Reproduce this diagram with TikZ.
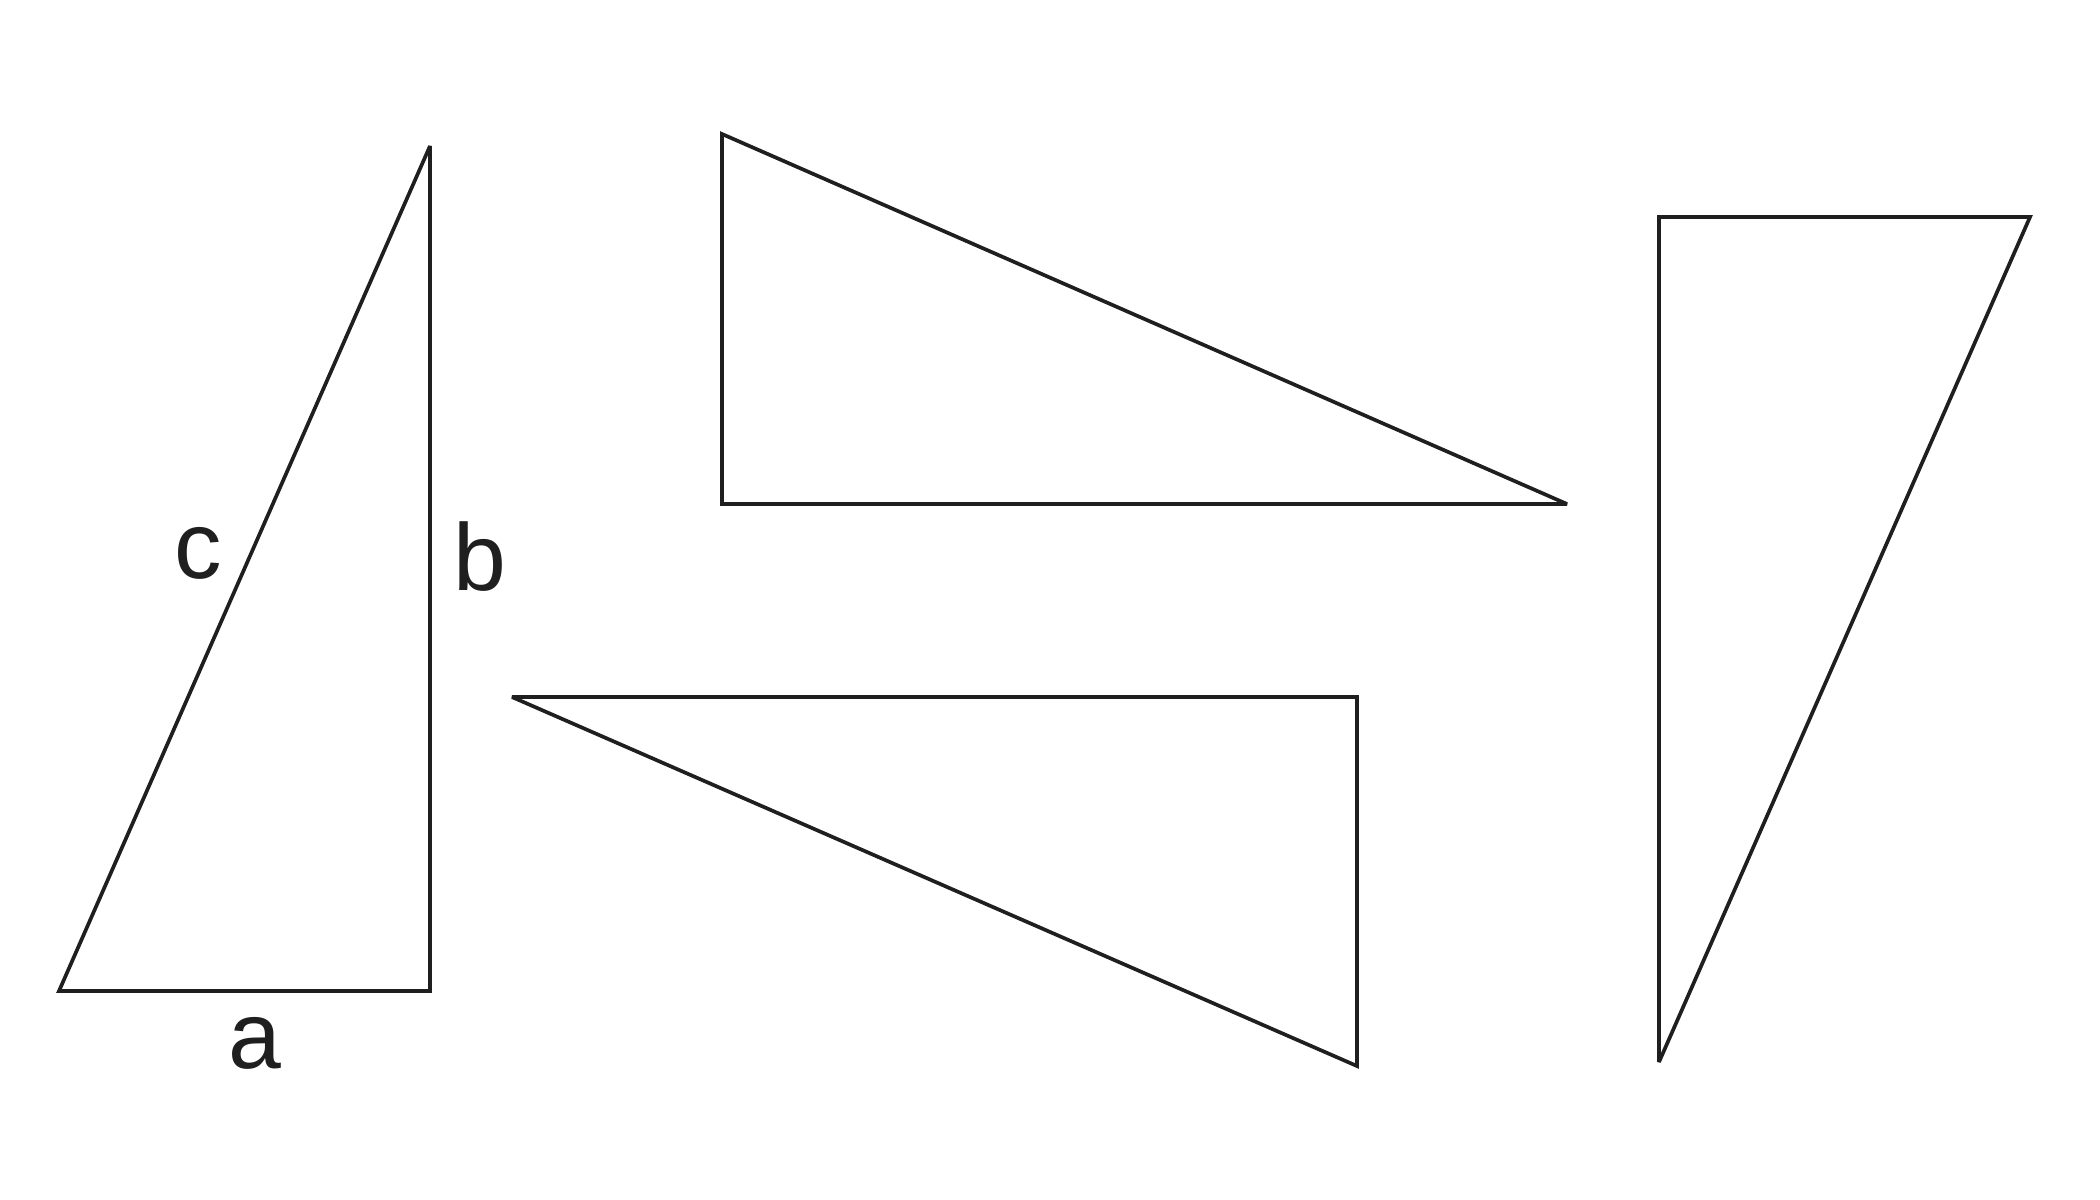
\documentclass[tikz,border=0pt]{standalone}
\usepackage{fontspec}
\setmainfont{Liberation Sans}
\begin{document}
\begin{tikzpicture}[x={(0.01cm,0)},y={(0,-0.01cm)},
  tri/.style={draw=black!88,line width=1.05pt,line join=miter,miter limit=2},
  lbl/.style={inner sep=0pt,font=\fontsize{27}{30}\selectfont,text=black!88}]
\useasboundingbox (0,0) rectangle (2100,1199);
% triangle 1
\coordinate (A1) at (59,991);
\coordinate (B1) at (430,991);
\coordinate (C1) at (430,146);
\draw[tri] (A1) -- (B1) -- (C1) -- cycle;
\node[lbl] (lc) at (198,553) {c};
\node[lbl] (lb) at (480,557) {b};
\node[lbl] (la) at (255,1043) {a};
% triangle 2
\coordinate (A2) at (722,134);
\coordinate (B2) at (722,504);
\coordinate (C2) at (1567,504);
\draw[tri] (A2) -- (B2) -- (C2) -- cycle;
% triangle 3
\coordinate (A3) at (512,697);
\coordinate (B3) at (1357,697);
\coordinate (C3) at (1357,1066);
\draw[tri] (A3) -- (B3) -- (C3) -- cycle;
% triangle 4
\coordinate (A4) at (1659,217);
\coordinate (B4) at (2030,217);
\coordinate (C4) at (1659,1062);
\draw[tri] (A4) -- (B4) -- (C4) -- cycle;
\end{tikzpicture}
\end{document}
